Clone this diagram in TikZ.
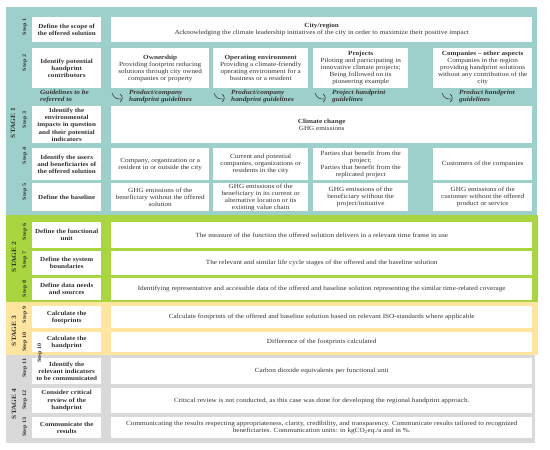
\documentclass[tikz,border=0pt]{standalone}
\usepackage{fontspec}
\setmainfont{Liberation Serif}[FakeStretch=1.14]
\definecolor{cTeal}{HTML}{9ED0CB}
\definecolor{cGreen}{HTML}{A9D640}
\definecolor{cYellow}{HTML}{FFE5A0}
\definecolor{cGray}{HTML}{D9D9D9}
\definecolor{cText}{HTML}{333333}
\begin{document}
\begin{tikzpicture}[x=1pt,y=-1pt,
  every node/.style={text=cText, inner sep=0pt},
  wbox/.style={fill=white, align=center, anchor=north west},
  lb/.style={wbox, font=\bfseries\fontsize{6.2}{7.2}\selectfont, minimum width=69pt},
  cb/.style={wbox, font=\fontsize{6.3}{7.0}\selectfont},
  full/.style={cb, minimum width=421pt},
  steplbl/.style={rotate=90, font=\bfseries\fontsize{5.4}{6}\selectfont},
  stagelbl/.style={rotate=90, font=\bfseries\fontsize{6.5}{7}\selectfont},
  guide/.style={font=\bfseries\itshape\fontsize{6.4}{7.4}\selectfont, align=left, anchor=north west},
  hookarr/.pic={\draw[line width=0.6pt, cText] (0,0) .. controls (2,5) and (4,6) .. (9,6);
                \draw[line width=0.6pt, cText] (8,1) .. controls (11,3) and (11,7) .. (8,9);}
]
\useasboundingbox (0,0) rectangle (550,450);
% stage backgrounds
\fill[cTeal] (6,7) rectangle (537,214.5);
\fill[cGreen] (6,214.5) rectangle (538,302);
\fill[cYellow] (6,302) rectangle (538,354.5);
\fill[cGray] (6,354.5) rectangle (535,443);

% stage labels
\node[stagelbl] (st1) at (13,123) {STAGE 1};
\node[stagelbl] (st2) at (14,257) {STAGE 2};
\node[stagelbl] (st3) at (14,331) {STAGE 3};
\node[stagelbl] (st4) at (14,404) {STAGE 4};

% step labels
\node[steplbl] (sl1) at (25,27) {Step 1};
\node[steplbl] (sl2) at (25,63) {Step 2};
\node[steplbl] (sl3) at (25,120) {Step 3};
\node[steplbl] (sl4) at (25,156) {Step 4};
\node[steplbl] (sl5) at (25,192) {Step 5};
\node[steplbl] (sl6) at (25,232) {Step 6};
\node[steplbl] (sl7) at (25,260) {Step 7};
\node[steplbl] (sl8) at (25,289) {Step 8};
\node[steplbl] (sl9) at (25,315) {Step 9};
\node[steplbl] (sl10) at (25,342) {Step 10};
\node[steplbl] (sl11) at (25,368) {Step 11};
\node[steplbl] (sl12) at (25,400) {Step 12};
\node[steplbl] (sl13) at (25,427) {Step 13};

% Step 1
\node[lb, minimum height=25pt] (l1) at (32,17) {Define the scope of\\the offered solution};
\node[full, minimum height=25pt] (c1) at (111,17) {\textbf{City/region}\\Acknowledging the climate leadership initiatives of the city in order to maximize their positive impact};

% Step 2
\node[lb, minimum height=40pt] (l2) at (32,48) {Identify potential\\handprint\\contributors};
\node[cb, minimum width=98pt, minimum height=40pt] (c2a) at (111,48) {\textbf{Ownership}\\Providing footprint reducing\\solutions through city owned\\companies or property};
\node[cb, minimum width=95pt, minimum height=40pt] (c2b) at (213,48) {\textbf{Operating environment}\\Providing a climate-friendly\\operating environment for a\\business or a resident};
\node[cb, minimum width=95pt, minimum height=40pt] (c2c) at (313,48) {\textbf{Projects}\\Piloting and participating in\\innovative climate projects;\\Being followed on its\\pioneering example};
\node[cb, minimum width=99pt, minimum height=40pt] (c2d) at (433,48) {\textbf{Companies -- other aspects}\\Companies in the region\\providing handprint solutions\\without any contribution of the\\city};

% Guidelines row
\node[guide] (g0) at (40,89.5) {Guidelines to be\\referred to};
\pic at (112,93) {hookarr};
\node[guide] (g1) at (129,89.5) {Product/company\\handprint guidelines};
\pic at (214,93) {hookarr};
\node[guide] (g2) at (231,89.5) {Product/company\\handprint guidelines};
\pic at (315,93) {hookarr};
\node[guide] (g3) at (332,89.5) {Project handprint\\guidelines};
\pic at (442,93) {hookarr};
\node[guide] (g4) at (459,89.5) {Product handprint\\guidelines};

% Step 3
\node[lb, minimum height=37pt] (l3) at (32,106) {Identify the\\environmental\\impacts in question\\and their potential\\indicators};
\node[full, minimum height=37pt] (c3) at (111,106) {\textbf{Climate change}\\GHG emissions};

% Step 4
\node[lb, minimum height=32pt] (l4) at (32,148) {Identify the users\\and beneficiaries of\\the offered solution};
\node[cb, minimum width=98pt, minimum height=32pt] (c4a) at (111,148) {Company, organization or a\\resident in or outside the city};
\node[cb, minimum width=95pt, minimum height=32pt] (c4b) at (213,148) {Current and potential\\companies, organizations or\\residents in the city};
\node[cb, minimum width=95pt, minimum height=32pt] (c4c) at (313,148) {Parties that benefit from the\\project;\\Parties that benefit from the\\replicated project};
\node[cb, minimum width=99pt, minimum height=32pt] (c4d) at (433,148) {Customers of the companies};

% Step 5
\node[lb, minimum height=28pt] (l5) at (32,183) {Define the baseline};
\node[cb, minimum width=98pt, minimum height=28pt] (c5a) at (111,183) {GHG emissions of the\\beneficiary without the offered\\solution};
\node[cb, minimum width=95pt, minimum height=28pt] (c5b) at (213,183) {GHG emissions of the\\beneficiary in its current or\\alternative location or its\\existing value chain};
\node[cb, minimum width=95pt, minimum height=28pt] (c5c) at (313,183) {GHG emissions of the\\beneficiary without the\\project/initiative};
\node[cb, minimum width=99pt, minimum height=28pt] (c5d) at (433,183) {GHG emissions of the\\customer without the offered\\product or service};

% Step 6-8
\node[lb, minimum height=26pt] (l6) at (32,222) {Define the functional\\unit};
\node[full, minimum height=26pt] (c6) at (111,222) {The measure of the function the offered solution delivers in a relevant time frame in use};
\node[lb, minimum height=24pt] (l7) at (32,251) {Define the system\\boundaries};
\node[full, minimum height=24pt] (c7) at (111,251) {The relevant and similar life cycle stages of the offered and the baseline solution};
\node[lb, minimum height=22pt] (l8) at (32,278) {Define data needs\\and sources};
\node[full, minimum height=22pt] (c8) at (111,278) {Identifying representative and accessible data of the offered and baseline solution representing the similar time-related coverage};

% Step 9-10
\node[lb, minimum height=22pt] (l9) at (32,306) {Calculate the\\footprints};
\node[full, minimum height=22pt] (c9) at (111,306) {Calculate footprints of the offered and baseline solution based on relevant ISO-standards where applicable};
\node[lb, minimum height=20pt] (l10) at (32,332) {Calculate the\\handprint};
\node[full, minimum height=20pt] (c10) at (111,332) {Difference of the footprints calculated};

% Step 11-13
\node[lb, minimum height=26pt] (l11) at (32,358) {Identify the\\relevant indicators\\to be communicated};
\node[full, minimum height=26pt] (c11) at (111,358) {Carbon dioxide equivalents per functional unit};
\node[lb, minimum height=25pt] (l12) at (32,388) {Consider critical\\review of the\\handprint};
\node[full, minimum height=25pt] (c12) at (111,388) {Critical review is not conducted, as this case was done for developing the regional handprint approach.};
\node[lb, minimum height=21pt] (l13) at (32,417) {Communicate the\\results};
\node[full, minimum height=21pt] (c13) at (111,417) {Communicating the results respecting appropriateness, clarity, credibility, and transparency. Communicate results tailored to recognized\\beneficiaries. Communication units: in kgCO\textsubscript{2}eq./a and in \%.};

% stray label
\node[steplbl] (sl10b) at (40,353) {Step 10};
\end{tikzpicture}
\end{document}
